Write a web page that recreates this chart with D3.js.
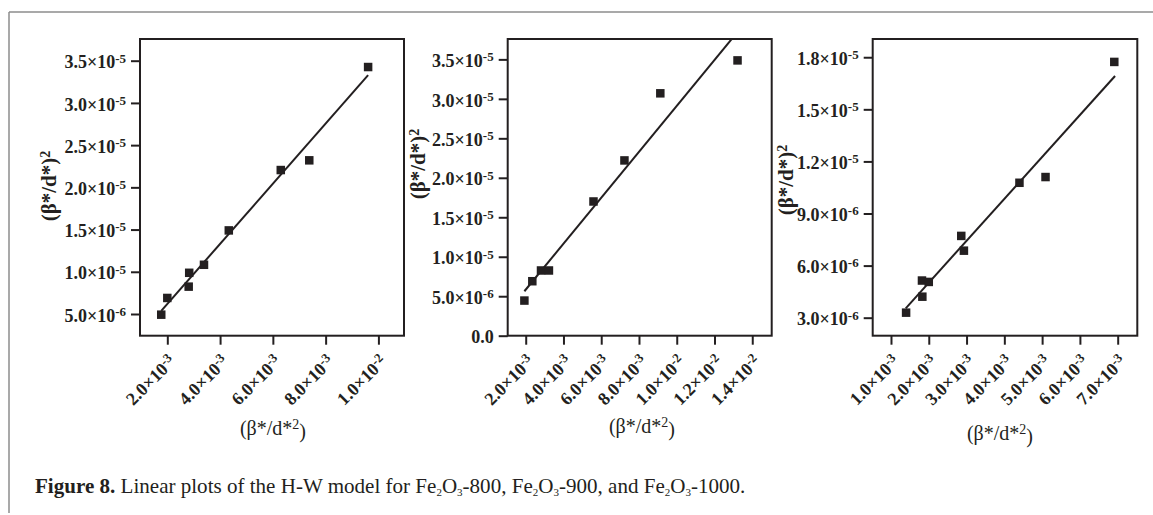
<!DOCTYPE html>
<html>
<head>
<meta charset="utf-8">
<script src="https://cdn.jsdelivr.net/npm/d3@7"></script>
<style>
  body { margin: 0; background: #fff; }
  svg { display: block; }
  .tick text { font-family: "Liberation Serif", "Times New Roman", serif; font-weight: bold; fill: #231f20; }
  .lab { font-family: "Liberation Serif", "Times New Roman", serif; fill: #231f20; }
</style>
</head>
<body>
<svg id="chart"></svg>
<script>
// ---- data ----
// Fe2O3-800
var x800 = [1.77e-3, 2.0e-3, 2.81e-3, 2.83e-3, 3.39e-3, 4.33e-3, 6.30e-3, 7.38e-3, 9.61e-3];
var y800 = [4.92e-6, 6.9e-6, 8.24e-6, 9.88e-6, 1.083e-5, 1.49e-5, 2.205e-5, 2.32e-5, 3.425e-5];
var fitX800 = [1.77e-3, 9.61e-3];
var fitY800 = [5.36e-6, 3.33e-5];
// Fe2O3-900
var x900 = [1.93e-3, 2.35e-3, 2.81e-3, 3.23e-3, 5.59e-3, 7.23e-3, 9.13e-3, 1.322e-2];
var y900 = [4.45e-6, 6.9e-6, 8.26e-6, 8.26e-6, 1.70e-5, 2.22e-5, 3.07e-5, 3.487e-5];
var fitX900 = [1.93e-3, 1.292e-2];
var fitY900 = [5.63e-6, 3.76e-5];
// Fe2O3-1000
var x1000 = [1.40e-3, 1.83e-3, 1.82e-3, 2.0e-3, 2.93e-3, 2.86e-3, 4.40e-3, 5.09e-3, 6.91e-3];
var y1000 = [3.29e-6, 4.21e-6, 5.14e-6, 5.06e-6, 6.86e-6, 7.71e-6, 1.077e-5, 1.11e-5, 1.773e-5];
var fitX1000 = [1.39e-3, 6.93e-3];
var fitY1000 = [3.54e-6, 1.692e-5];

// ticks
var yTicks800 = [5e-6, 1e-5, 1.5e-5, 2e-5, 2.5e-5, 3e-5, 3.5e-5];
var yLabels800 = ["5.0×10^-6", "1.0×10^-5", "1.5×10^-5", "2.0×10^-5", "2.5×10^-5", "3.0×10^-5", "3.5×10^-5"];
var xTicks800 = [2e-3, 4e-3, 6e-3, 8e-3, 1e-2];
var xLabels800 = ["2.0×10^-3", "4.0×10^-3", "6.0×10^-3", "8.0×10^-3", "1.0×10^-2"];

var yTicks900 = [0, 5e-6, 1e-5, 1.5e-5, 2e-5, 2.5e-5, 3e-5, 3.5e-5];
var yLabels900 = ["0.0", "5.0×10^-6", "1.0×10^-5", "1.5×10^-5", "2.0×10^-5", "2.5×10^-5", "3.0×10^-5", "3.5×10^-5"];
var xTicks900 = [2e-3, 4e-3, 6e-3, 8e-3, 1e-2, 1.2e-2, 1.4e-2];
var xLabels900 = ["2.0×10^-3", "4.0×10^-3", "6.0×10^-3", "8.0×10^-3", "1.0×10^-2", "1.2×10^-2", "1.4×10^-2"];

var yTicks1000 = [3e-6, 6e-6, 9e-6, 1.2e-5, 1.5e-5, 1.8e-5];
var yLabels1000 = ["3.0×10^-6", "6.0×10^-6", "9.0×10^-6", "1.2×10^-5", "1.5×10^-5", "1.8×10^-5"];
var xTicks1000 = [1e-3, 2e-3, 3e-3, 4e-3, 5e-3, 6e-3, 7e-3];
var xLabels1000 = ["1.0×10^-3", "2.0×10^-3", "3.0×10^-3", "4.0×10^-3", "5.0×10^-3", "6.0×10^-3", "7.0×10^-3"];

// ---- layout ----
var W = 1153, H = 515;
var panels = [
  { xs: x800, ys: y800, fx: fitX800, fy: fitY800, xd: [0.965e-3, 1.097e-2], yd: [2.43e-6, 3.757e-5],
    xt: xTicks800, xl: xLabels800, yt: yTicks800, yl: yLabels800,
    left: 140, right: 404, ylab: [49, 186], xlab: [273, 435] },
  { xs: x900, ys: y900, fx: fitX900, fy: fitY900, xd: [1.046e-3, 1.503e-2], yd: [0, 3.758e-5],
    xt: xTicks900, xl: xLabels900, yt: yTicks900, yl: yLabels900,
    left: 507.7, right: 771.7, ylab: [418, 164], xlab: [642, 433] },
  { xs: x1000, ys: y1000, fx: fitX1000, fy: fitY1000, xd: [0.516e-3, 7.519e-3], yd: [1.963e-6, 1.905e-5],
    xt: xTicks1000, xl: xLabels1000, yt: yTicks1000, yl: yLabels1000,
    left: 872.7, right: 1137.3, ylab: [786, 180], xlab: [1000, 440] }
];
var TOP = 39, BOTTOM = 335.7;

var svg = d3.select('#chart').attr('width', W).attr('height', H);

// outer frame (top + left only)
svg.append('line').attr('x1', 9).attr('x2', W).attr('y1', 12).attr('y2', 12)
  .attr('stroke', '#8c8c8c').attr('stroke-width', 1.5);
svg.append('line').attr('x1', 9).attr('x2', 9).attr('y1', 12).attr('y2', 513)
  .attr('stroke', '#8c8c8c').attr('stroke-width', 1.5);

function sciLabel(sel, s, supSize) {
  var parts = s.split('^');
  sel.text(null);
  sel.append('tspan').text(parts[0]);
  if (parts.length > 1) {
    sel.append('tspan').attr('dy', '-0.45em').attr('font-size', supSize).text(parts[1]);
  }
}

panels.forEach(function (p, pi) {
  var x = d3.scaleLinear().domain(p.xd).range([p.left, p.right]);
  var y = d3.scaleLinear().domain(p.yd).range([BOTTOM, TOP]);
  var g = svg.append('g');

  var clipId = 'clip' + pi;
  svg.append('clipPath').attr('id', clipId).append('rect')
    .attr('x', p.left).attr('y', TOP).attr('width', p.right - p.left).attr('height', BOTTOM - TOP);

  // y axis
  var yAxis = d3.axisLeft(y).tickValues(p.yt).tickSize(9).tickPadding(5)
    .tickFormat(function (d, i) { return p.yl[i]; });
  var ya = g.append('g').attr('transform', 'translate(' + p.left + ',0)').call(yAxis);
  ya.select('.domain').remove();
  ya.selectAll('.tick line').attr('stroke', '#231f20').attr('stroke-width', 2);
  ya.selectAll('.tick text').attr('font-size', 18).attr('dy', '0.4em').each(function (d, i) {
    sciLabel(d3.select(this), p.yl[i], 13);
  });

  // x axis
  var xAxis = d3.axisBottom(x).tickValues(p.xt).tickSize(9).tickPadding(4)
    .tickFormat(function (d, i) { return p.xl[i]; });
  var xa = g.append('g').attr('transform', 'translate(0,' + BOTTOM + ')').call(xAxis);
  xa.select('.domain').remove();
  xa.selectAll('.tick line').attr('stroke', '#231f20').attr('stroke-width', 2);
  xa.selectAll('.tick text').attr('font-size', 18)
    .attr('text-anchor', 'end').attr('dy', null).attr('y', null)
    .attr('transform', 'translate(9,27) rotate(-45)')
    .each(function (d, i) { sciLabel(d3.select(this), p.xl[i], 13); });

  // frame
  g.append('rect').attr('x', p.left).attr('y', TOP)
    .attr('width', p.right - p.left).attr('height', BOTTOM - TOP)
    .attr('fill', 'none').attr('stroke', '#231f20').attr('stroke-width', 2);

  // fit line
  g.append('line').attr('clip-path', 'url(#' + clipId + ')')
    .attr('x1', x(p.fx[0])).attr('y1', y(p.fy[0]))
    .attr('x2', x(p.fx[1])).attr('y2', y(p.fy[1]))
    .attr('stroke', '#231f20').attr('stroke-width', 2);

  // points
  var sz = 8.5;
  g.selectAll('rect.pt').data(p.xs).enter().append('rect').attr('class', 'pt')
    .attr('x', function (d) { return x(d) - sz / 2; })
    .attr('y', function (d, i) { return y(p.ys[i]) - sz / 2; })
    .attr('width', sz).attr('height', sz).attr('fill', '#231f20');

  // axis titles
  var yt = g.append('text').attr('class', 'lab').attr('font-size', 21).attr('font-weight', 'bold')
    .attr('text-anchor', 'middle')
    .attr('transform', 'translate(' + p.ylab[0] + ',' + p.ylab[1] + ') rotate(-90)')
    .attr('dy', '0.35em');
  yt.append('tspan').text('(β*/d*)');
  yt.append('tspan').attr('dy', '-0.45em').attr('font-size', 14).text('2');

  var xt = g.append('text').attr('class', 'lab').attr('font-size', 20)
    .attr('text-anchor', 'middle').attr('x', p.xlab[0]).attr('y', p.xlab[1]);
  xt.append('tspan').text('(β*/d*');
  xt.append('tspan').attr('dy', '-0.45em').attr('font-size', 14).text('2');
  xt.append('tspan').attr('dy', '0.45em').text(')');
});

// caption
var cap = svg.append('text').attr('class', 'lab').attr('x', 35).attr('y', 493).attr('font-size', 16);
cap.append('tspan').attr('font-weight', 'bold').text('Figure 8.');
cap.append('tspan').text(' Linear plots of the H-W model for Fe');
cap.append('tspan').attr('font-size', 11).attr('dy', 3).text('2');
cap.append('tspan').attr('dy', -3).text('O');
cap.append('tspan').attr('font-size', 11).attr('dy', 3).text('3');
cap.append('tspan').attr('dy', -3).text('-800, Fe');
cap.append('tspan').attr('font-size', 11).attr('dy', 3).text('2');
cap.append('tspan').attr('dy', -3).text('O');
cap.append('tspan').attr('font-size', 11).attr('dy', 3).text('3');
cap.append('tspan').attr('dy', -3).text('-900, and Fe');
cap.append('tspan').attr('font-size', 11).attr('dy', 3).text('2');
cap.append('tspan').attr('dy', -3).text('O');
cap.append('tspan').attr('font-size', 11).attr('dy', 3).text('3');
cap.append('tspan').attr('dy', -3).text('-1000.');
var capW = cap.node().getComputedTextLength();
if (capW > 0) cap.attr('font-size', 16 * 721 / capW);
</script>
</body>
</html>
